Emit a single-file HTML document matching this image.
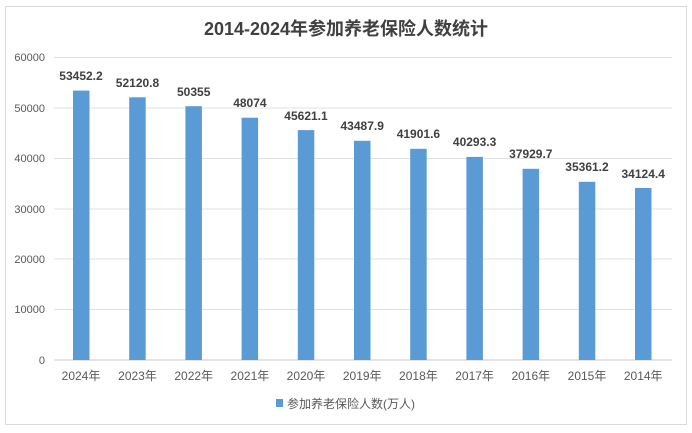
<!DOCTYPE html>
<html><head><meta charset="utf-8"><style>
html,body{margin:0;padding:0;background:#fff;}
</style></head><body>
<svg width="692" height="428" xmlns="http://www.w3.org/2000/svg" font-family="'Liberation Sans','Noto Sans CJK SC',sans-serif">
<rect x="0" y="0" width="692" height="428" fill="#fff"/>
<rect x="5.5" y="6.5" width="681" height="418" fill="#fff" stroke="#d9d9d9" stroke-width="1"/>
<text x="346" y="35" text-anchor="middle" font-size="18" font-weight="bold" fill="#404040">2014-2024年参加养老保险人数统计</text>
<g stroke="#e0e0e0" stroke-width="1">
<line x1="54" x2="672" y1="57.5" y2="57.5"/>
<line x1="54" x2="672" y1="108" y2="108"/>
<line x1="54" x2="672" y1="158.5" y2="158.5"/>
<line x1="54" x2="672" y1="209" y2="209"/>
<line x1="54" x2="672" y1="259" y2="259"/>
<line x1="54" x2="672" y1="309.5" y2="309.5"/>
</g>
<line x1="54" x2="672" y1="360" y2="360" stroke="#c8c8c8"/>
<g font-size="11" fill="#595959" text-anchor="end">
<text x="45" y="61">60000</text><text x="45" y="112">50000</text><text x="45" y="162">40000</text>
<text x="45" y="213">30000</text><text x="45" y="263">20000</text><text x="45" y="313">10000</text><text x="45" y="364">0</text>
</g>
<g fill="#5b9bd5">
<rect x="73" y="90.6" width="16.5" height="269.4"/>
<rect x="129.2" y="97.3" width="16.5" height="262.7"/>
<rect x="185.4" y="106.2" width="16.5" height="253.8"/>
<rect x="241.6" y="117.7" width="16.5" height="242.3"/>
<rect x="297.8" y="130.1" width="16.5" height="229.9"/>
<rect x="354" y="140.8" width="16.5" height="219.2"/>
<rect x="410.2" y="148.8" width="16.5" height="211.2"/>
<rect x="466.4" y="156.9" width="16.5" height="203.1"/>
<rect x="522.6" y="168.8" width="16.5" height="191.2"/>
<rect x="578.8" y="181.8" width="16.5" height="178.2"/>
<rect x="635" y="188" width="16.5" height="172"/>
</g>
<g font-size="12" font-weight="bold" fill="#404040" text-anchor="middle">
<text x="81" y="80">53452.2</text><text x="137.5" y="87">52120.8</text><text x="193.7" y="96">50355</text>
<text x="249.9" y="107">48074</text><text x="306" y="120">45621.1</text><text x="362.2" y="130">43487.9</text>
<text x="418.4" y="138">41901.6</text><text x="474.6" y="146">40293.3</text><text x="530.8" y="158">37929.7</text>
<text x="587" y="171">35361.2</text><text x="643.2" y="178">34124.4</text>
</g>
<g font-size="12" fill="#595959" text-anchor="middle">
<text x="81" y="380">2024年</text><text x="137.5" y="380">2023年</text><text x="193.7" y="380">2022年</text>
<text x="249.9" y="380">2021年</text><text x="306" y="380">2020年</text><text x="362.2" y="380">2019年</text>
<text x="418.4" y="380">2018年</text><text x="474.6" y="380">2017年</text><text x="530.8" y="380">2016年</text>
<text x="587" y="380">2015年</text><text x="643.2" y="380">2014年</text>
</g>
<rect x="276" y="399" width="7" height="8" fill="#5b9bd5"/>
<text x="287" y="408" font-size="12" fill="#595959">参加养老保险人数(万人)</text>
</svg>
</body></html>
